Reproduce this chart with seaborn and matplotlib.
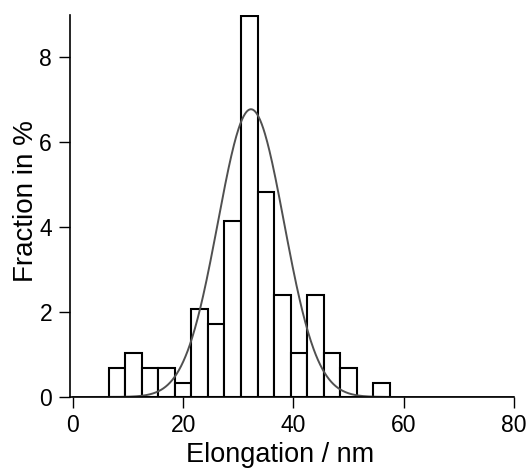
import numpy as np
import pandas as pd
import matplotlib
matplotlib.use("Agg")
import matplotlib.pyplot as plt
import seaborn as sns

# Histogram data: bin centres (nm) and fraction (%)
bin_centers = [8, 11, 14, 17, 20, 23, 26, 29, 32, 35, 38, 41, 44, 47, 50, 53, 56]
fractions = [0.68, 1.03, 0.68, 0.68, 0.34, 2.07, 1.72, 4.14, 8.97, 4.83, 2.41, 1.03, 2.41, 1.03, 0.68, 0.0, 0.34]
bin_width = 3.0

# Gaussian fit parameters
fit_amplitude = 6.78
fit_center = 32.3
fit_sigma = 6.0

x_ticks = [0, 20, 40, 60, 80]
y_ticks = [0, 2, 4, 6, 8]

sns.set_style("ticks")
plt.rcParams['font.family'] = ['Liberation Sans', 'DejaVu Sans']
plt.rcParams['text.color'] = 'black'
plt.rcParams['axes.labelcolor'] = 'black'

fig = plt.figure(figsize=(5.31, 4.69), dpi=100)
ax = fig.add_axes([0.132, 0.1535, 0.836, 0.8145])

df = pd.DataFrame({"x": bin_centers, "w": fractions})
lo = min(bin_centers) - bin_width / 2
hi = max(bin_centers) + bin_width / 2
sns.histplot(data=df, x="x", weights="w", binwidth=bin_width, binrange=(lo, hi), stat="count",
             color="white", edgecolor="black", linewidth=1.5, alpha=1, ax=ax)

xs = np.linspace(0, 80, 800)
fit_df = pd.DataFrame({"x": xs, "y": fit_amplitude * np.exp(-(xs - fit_center) ** 2 / (2 * fit_sigma ** 2))})
sns.lineplot(data=fit_df, x="x", y="y", color="#505050", linewidth=1.4, ax=ax)

ax.set_xlim(-0.5, 80)
ax.set_ylim(0, 9.0)
ax.set_xticks(x_ticks)
ax.set_yticks(y_ticks)
ax.tick_params(axis="both", labelsize=16.5, length=8, width=1, color="black", labelcolor="black")
ax.tick_params(axis="x", pad=4)
ax.tick_params(axis="y", pad=5)
for s in ["top", "right"]:
    ax.spines[s].set_visible(False)
for s in ["left", "bottom"]:
    ax.spines[s].set_color("black")
    ax.spines[s].set_linewidth(1.2)

ax.set_xlabel("Elongation / nm", fontsize=19.5, color="black")
ax.xaxis.set_label_coords(0.473, -0.117)
ax.set_ylabel("Fraction in %", fontsize=20, labelpad=0.5, y=0.513, color="black")

fig.savefig("out.png", dpi=100)
